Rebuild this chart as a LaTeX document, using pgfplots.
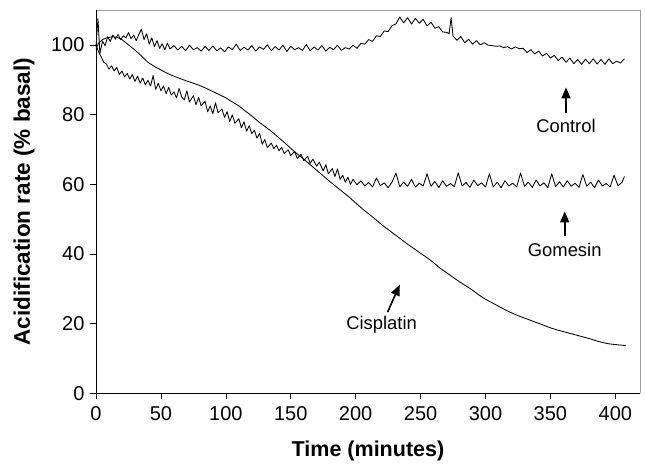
\documentclass[border=0pt]{standalone}
\usepackage{fontspec}
\setmainfont{Liberation Sans}
\usepackage{pgfplots}
\pgfplotsset{compat=1.18}
\usetikzlibrary{arrows.meta}

\begin{document}
\begin{tikzpicture}
\useasboundingbox (-96pt,-70.7pt) rectangle (549pt,393.3pt);
\begin{axis}[
  scale only axis,
  width=544pt, height=383.3pt,
  xmin=0, xmax=419, ymin=0, ymax=110,
  xtick={0,50,...,400}, ytick={0,20,...,100},
  xtick pos=left, ytick pos=left,
  tick align=outside, major tick length=6pt,
  tick style={black, line width=0.6pt},
  axis line style={draw=none},
  clip=false,
  /pgf/number format/assume math mode=true,
  ticklabel style={font=\fontsize{20}{22}\selectfont},
  xticklabel style={yshift=-4pt},
  yticklabel style={xshift=-2pt},
  xlabel={Time (minutes)},
  ylabel={Acidification rate (\% basal)},
  xlabel style={font=\bfseries\fontsize{21.5}{24}\selectfont, at={(axis description cs:0.5,0)}, anchor=base, yshift=-63pt},
  ylabel style={font=\bfseries\fontsize{22.5}{25}\selectfont, at={(axis description cs:0,0.5)}, rotate=0, anchor=base, yshift=66pt},
]
\draw[gray!75, line width=0.8pt] (rel axis cs:0,1) -- (rel axis cs:1,1) -- (rel axis cs:1,0);
\draw[black, line width=0.8pt] (rel axis cs:0,1) -- (rel axis cs:0,0) -- (rel axis cs:1,0);

% Control
\addplot[black, line width=0.85pt, line join=round] coordinates {
(0,99.5)(1.5,107.5)(3,97.5)(5,101)(7,99.8)(9,102.3)(11,101)(13,102.8)(15,101.6)(17,103)(19,101.5)(21,102.6)(23,102)(25,103.5)(27,101.8)(29,102.8)(31,101.2)(33,103)(35,104.5)(37,101.5)(39,103.2)(41,100.2)(43,102)(45,99.5)(47,101.2)(49,99)(51,100.3)(53,98.6)(55,100.5)(57,98.8)
(60,99.8)(63,98.5)(66,99.6)(69,98.3)(72,99.9)(75,98.6)(78,99.2)(81,98.2)(84,99.5)(87,98.4)(90,99.7)(93,98.3)(96,99.1)(99,98.0)(102,99.4)(105,98.6)(108,100.2)(111,98.4)(114,99.3)(117,98.5)(120,99.8)(123,98.2)(126,99.4)(129,98.7)(132,100.0)(135,98.3)(138,99.5)(141,98.5)(144,99.9)(147,98.1)(150,99.6)(153,98.6)(156,99.2)(159,98.4)(162,100.1)(165,98.3)(168,99.4)(171,98.5)(174,99.8)(177,98.2)(180,99.3)(183,98.6)(186,99.9)(189,98.4)(192,99.2)(195,98.8)(198,99.9)
(201,99.0)(204,100.4)(207,100.2)(210,101.5)(213,101.0)(216,102.6)(219,102.4)(222,104.0)(225,103.8)(228,105.5)(231,106.0)(234,108.0)(237,106.3)(240,107.8)(243,106.0)(246,107.6)(249,106.2)(252,107.3)(255,105.4)(258,106.5)(261,104.8)(264,105.2)(267,103.7)(270,103.6)(272,103.2)(273.5,107.8)(275,102.5)(278,101.3)(281,102.4)(284,100.6)(287,101.6)(290,100.2)(293,101.2)(296,100.0)(299,100.6)
(302,99.9)(305,99.8)(308,99.6)(311,99.7)(314,99.2)(317,99.5)(320,98.8)(323,99.4)(326,98.9)(329,99.0)(332,97.8)(335,98.6)(338,97.4)(341,98.2)(344,96.8)(347,97.6)(350,96.2)(353,97.0)(356,95.5)(359,96.5)(362,95.0)(365,96.2)(368,94.6)(371,95.8)(374,94.4)(377,95.9)(380,94.6)(383,96.0)(386,94.5)(389,95.8)(392,94.4)(395,96.0)(398,94.6)(401,95.3)(404,94.8)(407,96.0)
};

% Gomesin
\addplot[black, line width=0.85pt, line join=round] coordinates {
(0,100)(2,98)(4,96.5)(6,95)(8,94.5)(10,93)(12,94)(14,92.5)(16,93.5)(18,91.5)(20,92.5)(22,90.8)(24,91.8)(26,90.2)(28,91.5)(30,89.5)(32,91)(34,89)(36,90.5)(38,88.5)(40,89.8)(42,88.2)(44,91.2)(46,87.2)(48,89)(50,86.8)(52,88.2)(54,86)(56,87.8)(58,85.6)
(60,86.5)(62,84.8)(64,87.5)(66,85)(68,84.2)(70,86.8)(72,83.6)(75,85.4)(77,82.8)(79,84.9)(81,82.5)(84,83.8)(86,80.8)(88,82.5)(90,80.2)(92,83.4)(94,80.5)(97,81.6)(99,79.2)(101,80.8)(103,78.0)(105,79.9)(107,77.5)(110,78.8)(112,76.2)(114,77.9)(116,75.2)(118,76.8)(120,74.5)(122,75.5)(124,73.2)(126,74.6)(128,71.5)(130,72.8)(132,70.5)(135,71.8)(137,70.2)(139,71.2)(141,69.6)(143,70.6)(145,68.8)(148,69.9)(150,68.2)(153,69.4)(155,67.4)(158,68.6)(160,66.8)(163,68.0)(165,66.0)(167,67.2)(170,65.2)(172,66.3)(175,63.8)(177,65.6)(179,63.0)(182,64.5)(184,62.2)(186,64.4)(188,61.4)(190,62.6)(192,60.6)(194,62.0)(196,60.0)(198,61.4)
(201,59.8)(204,61)(207,59.5)(210,60.5)(213,59.2)(216,61.8)(219,59.6)(222,60.4)(225,59.0)(228,60.6)(231,63.2)(234,59.3)(237,60.6)(240,59.4)(243,61.4)(246,59.2)(249,60.3)(252,59.5)(255,63.0)(258,59.4)(261,60.8)(264,59.0)(267,61.0)(270,59.4)(273,60.2)(276,59.3)(279,63.3)(282,59.5)(285,60.5)(288,59.1)(291,61.2)(294,59.6)(297,60.4)(300,59.2)
(303,63.0)(306,59.2)(309,60.6)(312,59.0)(315,61.0)(318,59.5)(321,60.3)(324,59.2)(327,63.2)(330,59.4)(333,60.6)(336,59.1)(339,61.2)(342,59.5)(345,60.4)(348,59.0)(351,63.0)(354,59.3)(357,60.7)(360,59.2)(363,61.0)(366,59.4)(369,60.3)(372,59.1)(375,62.8)(378,59.4)(381,60.6)(384,59.0)(387,61.2)(390,59.5)(393,60.2)(396,59.2)(399,62.6)(402,59.6)(405,60.5)(407,62.2)
};

% Cisplatin
\addplot[black, line width=0.85pt, line join=round] coordinates {
(0,99)(2,100.5)(5,101.5)(8,102)(12,102.3)(16,102.2)(20,101.5)(25,100)(30,98.5)(35,96.8)(40,95)(45,93.8)(50,92.8)(55,91.8)(60,91)(65,90.3)(70,89.6)(75,89)(80,88.3)(85,87.5)(90,86.6)(95,85.7)(100,84.8)(105,83.6)(110,82.5)(115,81)(120,79.6)(125,78)(130,76.6)(135,75.2)(140,73.6)(145,72)(150,70.3)(155,68.7)(160,67.2)(165,65.6)(170,64)(175,62.4)(180,60.8)(185,59.3)(190,57.8)(195,56.3)(200,54.6)(205,53)(210,51.5)(215,50)(220,48.4)(225,47)(230,45.6)(235,44.2)(240,42.8)(245,41.5)(250,40.2)(255,38.9)(260,37.5)(265,35.9)(270,34.6)(275,33.3)(280,32)(285,30.8)(290,29.6)(295,28.2)(300,27)(305,26)(310,25)(315,24)(320,23.1)(325,22.3)(330,21.6)(335,20.9)(340,20.2)(345,19.5)(350,18.8)(355,18.2)(360,17.7)(365,17.2)(370,16.7)(375,16.2)(380,15.7)(385,15.1)(390,14.6)(395,14.2)(400,14)(405,13.8)(408,13.7)
};

\node[font=\fontsize{18.4}{21}\selectfont] at (axis cs:362,76.7) {Control};
\draw[line width=1.6pt, -{Triangle[width=9pt,length=11pt]}] (axis cs:362,80.4) -- (axis cs:362,87.8);
\node[font=\fontsize{18.4}{21}\selectfont] at (axis cs:361,41.1) {Gomesin};
\draw[line width=1.6pt, -{Triangle[width=9pt,length=11pt]}] (axis cs:361,45.1) -- (axis cs:361,52.2);
\node[font=\fontsize{18.4}{21}\selectfont] at (axis cs:220,19.6) {Cisplatin};
\draw[line width=1.6pt, -{Triangle[width=9pt,length=11pt]}] (axis cs:224.6,23.3) -- (axis cs:234,31.2);
\end{axis}
\end{tikzpicture}
\end{document}
